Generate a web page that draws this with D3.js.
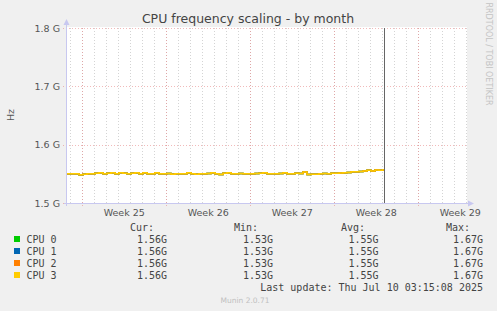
<!DOCTYPE html>
<html><head><meta charset="utf-8">
<script src="https://cdn.jsdelivr.net/npm/d3@7"></script>
<style>
html,body{margin:0;padding:0;background:#f0f0f0;}
svg{display:block;}
</style></head>
<body>
<svg id="c" width="497" height="311"></svg>
<script>
// ---- data ----
const title = "CPU frequency scaling - by month";
const yLabel = "Hz";
const yTicks = [1.5e9, 1.6e9, 1.7e9, 1.8e9];
const yTickLabels = ["1.5 G", "1.6 G", "1.7 G", "1.8 G"];
const weekLabels = ["Week 25", "Week 26", "Week 27", "Week 28", "Week 29"];
const weekStarts = ["2025-06-16", "2025-06-23", "2025-06-30", "2025-07-07", "2025-07-14"];
const seriesNames = ["CPU 0", "CPU 1", "CPU 2", "CPU 3"];
const seriesColors = ["#00cc00", "#0066b3", "#ff8000", "#ffcc00"];
const curVals = ["1.56G", "1.56G", "1.56G", "1.56G"];
const minVals = ["1.53G", "1.53G", "1.53G", "1.53G"];
const avgVals = ["1.55G", "1.55G", "1.55G", "1.55G"];
const maxVals = ["1.67G", "1.67G", "1.67G", "1.67G"];
const lastUpdate = "Last update: Thu Jul 10 03:15:08 2025";
const footer = "Munin 2.0.71";
const sideText = "RRDTOOL / TOBI OETIKER";
const domainStart = "2025-06-14T17:30:00Z";
const domainEnd = "2025-07-18T01:30:00Z";
const nowTime = "2025-07-11T04:00:00Z";
const dataStart = "2025-06-14T17:30:00Z";
const stepHours = 8;
// MHz, one sample per 8 hours
const freqMHz = [
 1550,1550,1550,1548.5,1549.5,1550,1550,1551,1552,1550,
 1551,1552,1550,1552,1551,1550,1551,1552,1550,1552,
 1550,1550,1552,1550,1550,1550.5,1549.5,1550,1550,1550,
 1552,1550,1549.5,1550,1550,1550.5,1552,1550,1549,1551,
 1552,1550,1550,1550.5,1550,1550,1550,1550.5,1551,1552,
 1550,1550,1550,1550.5,1552,1550,1550,1551,1550.5,1553,
 1549,1549.5,1549.5,1550,1550.5,1550,1551,1551,1551.5,1552,
 1552.5,1553.5,1553.5,1554,1555,1556,1555,1556.5,1556,1558.5
];
const cpuSeries = [freqMHz, freqMHz, freqMHz, freqMHz];

// ---- layout ----
const L = 67, R = 467, T = 28, B = 203;
const svg = d3.select("#c");
const x = d3.scaleUtc().domain([new Date(domainStart), new Date(domainEnd)]).range([L, R]);
const y = d3.scaleLinear().domain([1.5e9, 1.8e9]).range([B, T]);

svg.append("rect").attr("x", 0).attr("y", 0).attr("width", 497).attr("height", 311).attr("fill", "#f0f0f0");
svg.append("rect").attr("x", L).attr("y", T - 1).attr("width", R - L).attr("height", B - T + 1).attr("fill", "#ffffff");

// minor grid (days)
const days = d3.utcDay.range(new Date(domainStart), new Date(domainEnd));
svg.append("g").selectAll("line").data(days).join("line")
  .attr("x1", d => Math.round(x(d)) + 0.5).attr("x2", d => Math.round(x(d)) + 0.5)
  .attr("y1", T).attr("y2", B)
  .attr("stroke", "#d4d4d4").attr("stroke-width", 1).attr("stroke-dasharray", "1,2");

// major grid (weeks)
const weeks = weekStarts.map(s => new Date(s + "T00:00:00Z"));
svg.append("g").selectAll("line").data(weeks).join("line")
  .attr("x1", d => Math.round(x(d)) + 0.5).attr("x2", d => Math.round(x(d)) + 0.5)
  .attr("y1", T).attr("y2", B + 3)
  .attr("stroke", "rgba(230,130,130,0.55)").attr("stroke-width", 1).attr("stroke-dasharray", "1,2");

// horizontal grid
svg.append("g").selectAll("line").data(yTicks).join("line")
  .attr("x1", L - 4).attr("x2", R)
  .attr("y1", d => Math.round(y(d)) + 0.5).attr("y2", d => Math.round(y(d)) + 0.5)
  .attr("stroke", "rgba(230,130,130,0.55)").attr("stroke-width", 1).attr("stroke-dasharray", "1,2");

// y tick labels
svg.append("g").selectAll("text").data(yTicks).join("text")
  .attr("x", 60).attr("y", d => y(d) + 3.5)
  .attr("text-anchor", "end").attr("font-family", "DejaVu Sans").attr("font-size", 9.5)
  .attr("fill", "#555").text((d, i) => yTickLabels[i]);

// x week labels
svg.append("g").selectAll("text").data(weeks).join("text")
  .attr("x", d => x(d3.utcHour.offset(d, 84)))
  .attr("y", 216)
  .attr("text-anchor", "middle").attr("font-family", "DejaVu Sans").attr("font-size", 9.5)
  .attr("fill", "#555").text((d, i) => weekLabels[i]);

// series
const line = d3.line()
  .x((d, i) => x(d3.utcHour.offset(new Date(dataStart), i * stepHours)))
  .y(d => y(d * 1e6))
  .curve(d3.curveStepAfter);
cpuSeries.forEach((s, k) => {
  svg.append("path").datum(s).attr("d", line)
    .attr("fill", "none").attr("stroke", seriesColors[k]).attr("stroke-width", 1.5);
});

// now line
svg.append("line")
  .attr("x1", Math.round(x(new Date(nowTime))) + 0.5).attr("x2", Math.round(x(new Date(nowTime))) + 0.5)
  .attr("y1", T).attr("y2", B).attr("stroke", "#666").attr("stroke-width", 1);

// axes
const axisCol = "#c8c8f0";
svg.append("line").attr("x1", L - 0.5).attr("x2", L - 0.5).attr("y1", B + 3).attr("y2", 24).attr("stroke", axisCol);
svg.append("path").attr("d", `M${L - 3.5},${25} L${L - 0.5},${19} L${L + 2.5},${25} Z`).attr("fill", axisCol);
svg.append("line").attr("x1", L - 3).attr("x2", R + 2).attr("y1", B + 0.5).attr("y2", B + 0.5).attr("stroke", axisCol);
svg.append("path").attr("d", `M${R + 1},${B - 2.5} L${R + 7},${B + 0.5} L${R + 1},${B + 3.5} Z`).attr("fill", axisCol);

// title
svg.append("text").attr("x", 248).attr("y", 23).attr("text-anchor", "middle")
  .attr("font-family", "DejaVu Sans").attr("font-size", 12.5).attr("fill", "#444").text(title);

// y label
svg.append("text").attr("transform", "translate(14,115) rotate(-90)").attr("text-anchor", "middle")
  .attr("font-family", "DejaVu Sans").attr("font-size", 9.5).attr("fill", "#555").text(yLabel);

// side text
svg.append("text").attr("transform", "translate(486,54) rotate(90)").attr("text-anchor", "middle")
  .attr("font-family", "DejaVu Sans").attr("font-size", 8).attr("fill", "#c4c4c4").text(sideText);

// legend
const mono = "DejaVu Sans Mono";
const lg = svg.append("g").attr("font-family", mono).attr("font-size", 10).attr("fill", "#444");
const hy = 231;
[["Cur:", 154], ["Min:", 258], ["Avg:", 365], ["Max:", 470]].forEach(([t, xx]) => {
  lg.append("text").attr("x", xx).attr("y", hy).attr("text-anchor", "end").text(t);
});
seriesNames.forEach((n, i) => {
  const yy = 243 + i * 12;
  svg.append("rect").attr("x", 14).attr("y", yy - 7).attr("width", 6).attr("height", 6).attr("fill", seriesColors[i]);
  lg.append("text").attr("x", 26.5).attr("y", yy).text(n);
  lg.append("text").attr("x", 167).attr("y", yy).attr("text-anchor", "end").text(curVals[i]);
  lg.append("text").attr("x", 273).attr("y", yy).attr("text-anchor", "end").text(minVals[i]);
  lg.append("text").attr("x", 378.5).attr("y", yy).attr("text-anchor", "end").text(avgVals[i]);
  lg.append("text").attr("x", 483).attr("y", yy).attr("text-anchor", "end").text(maxVals[i]);
});
lg.append("text").attr("x", 483).attr("y", 291).attr("text-anchor", "end").text(lastUpdate);
svg.append("text").attr("x", 245).attr("y", 303).attr("text-anchor", "middle")
  .attr("font-family", "DejaVu Sans").attr("font-size", 7.5).attr("fill", "#c0c0c0").text(footer);
</script>
</body></html>
